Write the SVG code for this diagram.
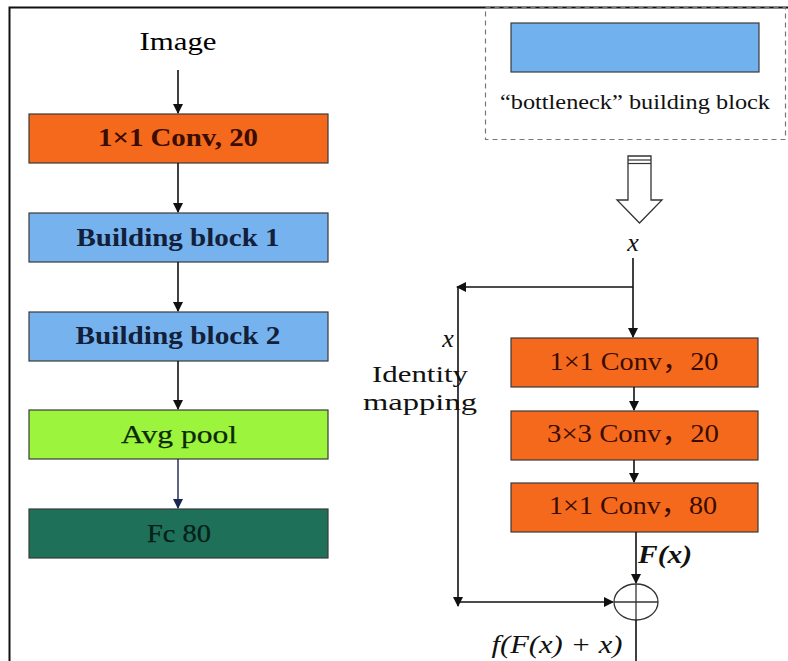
<svg xmlns="http://www.w3.org/2000/svg" width="788" height="661" viewBox="0 0 788 661">
  <style>
    .lbl { font-family: "Liberation Serif", "DejaVu Serif", "Noto Sans CJK SC", serif; font-size: 26px; text-anchor: middle; }
    .bold { font-weight: bold; }
    .it { font-style: italic; }
    .box { stroke: #3a3a3a; stroke-width: 1.2; }
    .orange { fill: #F4691C; }
    .blue { fill: #76B3EE; }
    .line { stroke: #111; stroke-width: 1.6; fill: none; }
  </style>
  <defs>
    <marker id="arr" markerWidth="10" markerHeight="10" refX="9" refY="5" orient="auto" markerUnits="userSpaceOnUse">
      <path d="M0,0 L10,5 L0,10 Z" fill="#111"/>
    </marker>
    <marker id="arrNavy" markerWidth="10" markerHeight="10" refX="9" refY="5" orient="auto" markerUnits="userSpaceOnUse">
      <path d="M0,0 L10,5 L0,10 Z" fill="#1a2550"/>
    </marker>
  </defs>

  <rect width="788" height="661" fill="#ffffff"/>
  <!-- frame -->
  <path d="M9.5,661 L9.5,7.5 L788,7.5" stroke="#111" stroke-width="2" fill="none"/>

  <!-- left column -->
  <g id="image-label">
    <text class="lbl" x="178" y="50" textLength="77" lengthAdjust="spacingAndGlyphs">Image</text>
  </g>
  <g id="conv1">
    <rect class="box orange" x="29" y="114" width="299" height="49"/>
    <text class="lbl bold" x="178" y="146" fill="#3a0c02" textLength="160" lengthAdjust="spacingAndGlyphs">1×1 Conv, 20</text>
  </g>
  <g id="block1">
    <rect class="box blue" x="29" y="213" width="299" height="49"/>
    <text class="lbl bold" x="178" y="246" fill="#12203a" textLength="203" lengthAdjust="spacingAndGlyphs">Building block 1</text>
  </g>
  <g id="block2">
    <rect class="box blue" x="29" y="312" width="299" height="49"/>
    <text class="lbl bold" x="178" y="344" fill="#12203a" textLength="205" lengthAdjust="spacingAndGlyphs">Building block 2</text>
  </g>
  <g id="avgpool">
    <rect class="box" x="29" y="410" width="299" height="49" fill="#9CF53C"/>
    <text class="lbl" x="179" y="443" fill="#0c2a08" stroke="#0c2a08" stroke-width="0.25" textLength="116" lengthAdjust="spacingAndGlyphs">Avg pool</text>
  </g>
  <g id="fc">
    <rect class="box" x="29" y="509" width="299" height="49" fill="#1E7158"/>
    <text class="lbl" x="179" y="542" fill="#06201a" stroke="#06201a" stroke-width="0.25" textLength="64" lengthAdjust="spacingAndGlyphs">Fc 80</text>
  </g>

  <!-- legend -->
  <g id="legend">
    <rect x="485.5" y="7.5" width="300" height="132" fill="none" stroke="#777" stroke-width="1.2" stroke-dasharray="5,4"/>
    <rect class="box" x="511" y="23" width="248" height="49" fill="#71B1EE"/>
    <text class="lbl" x="635" y="109" style="font-size:22px" fill="#111" textLength="270" lengthAdjust="spacingAndGlyphs">“bottleneck” building block</text>
  </g>

  <!-- hollow arrow -->
  <g id="hollow-arrow">
    <path d="M628,156 L651,156 L651,200 L662,200 L639.5,223 L617,200 L628,200 Z" fill="#fff" stroke="#333" stroke-width="1.3"/>
    <line x1="628" y1="160" x2="651" y2="160" stroke="#333" stroke-width="1.2"/>
    <line x1="628" y1="163.5" x2="651" y2="163.5" stroke="#333" stroke-width="1.2"/>
  </g>

  <!-- right column -->
  <g id="x-in">
    <text class="lbl it" x="633" y="251" fill="#111">x</text>
  </g>
  <g id="r-conv1">
    <rect class="box orange" x="511" y="338" width="247" height="49"/>
    <text class="lbl" x="634" y="370" fill="#3a0c02" textLength="169" lengthAdjust="spacingAndGlyphs">1×1 Conv，20</text>
  </g>
  <g id="r-conv2">
    <rect class="box orange" x="511" y="411" width="247" height="49"/>
    <text class="lbl" x="633" y="442" fill="#3a0c02" textLength="172" lengthAdjust="spacingAndGlyphs">3×3 Conv，20</text>
  </g>
  <g id="r-conv3">
    <rect class="box orange" x="511" y="483" width="247" height="49"/>
    <text class="lbl" x="633" y="514" fill="#3a0c02" textLength="168" lengthAdjust="spacingAndGlyphs">1×1 Conv，80</text>
  </g>
  <g id="identity-label">
    <text class="lbl it" x="448" y="347" fill="#111">x</text>
    <text class="lbl" x="420" y="382" style="font-size:23px" fill="#111" textLength="96" lengthAdjust="spacingAndGlyphs">Identity</text>
    <text class="lbl" x="420" y="410" style="font-size:23px" fill="#111" textLength="114" lengthAdjust="spacingAndGlyphs">mapping</text>
  </g>
  <g id="fx-label">
    <text class="lbl bold it" x="665" y="563" fill="#111" textLength="54" lengthAdjust="spacingAndGlyphs">F(x)</text>
  </g>
  <g id="sum">
    <ellipse cx="636" cy="602" rx="22" ry="18" fill="#fff" stroke="#333" stroke-width="1.3"/>
    <line x1="614" y1="602" x2="658" y2="602" stroke="#333" stroke-width="1.3"/>
    <line x1="636" y1="584" x2="636" y2="620" stroke="#333" stroke-width="1.3"/>
  </g>
  <g id="out-label">
    <text class="lbl it" x="557" y="653" fill="#111" textLength="131" lengthAdjust="spacingAndGlyphs">f(F(x) + x)</text>
  </g>

  <!-- connectors -->
  <g id="connectors">
    <line class="line" x1="178" y1="70" x2="178" y2="113" marker-end="url(#arr)"/>
    <line class="line" x1="178" y1="163" x2="178" y2="212" marker-end="url(#arr)"/>
    <line class="line" x1="178" y1="262" x2="178" y2="311" marker-end="url(#arr)"/>
    <line class="line" x1="178" y1="361" x2="178" y2="409" marker-end="url(#arr)"/>
    <line x1="178" y1="459" x2="178" y2="508" stroke="#1a2550" stroke-width="1.4" marker-end="url(#arrNavy)"/>

    <line class="line" x1="633" y1="258" x2="633" y2="337" marker-end="url(#arr)"/>
    <line class="line" x1="633" y1="287" x2="457" y2="287" marker-end="url(#arr)"/>
    <line class="line" x1="458" y1="287" x2="458" y2="606" marker-end="url(#arr)"/>
    <line class="line" x1="458" y1="602" x2="613" y2="602" marker-end="url(#arr)"/>
    <line class="line" x1="634" y1="387" x2="634" y2="410" marker-end="url(#arr)"/>
    <line class="line" x1="634" y1="460" x2="634" y2="482" marker-end="url(#arr)"/>
    <line class="line" x1="636" y1="532" x2="636" y2="583" marker-end="url(#arr)"/>
    <line class="line" x1="636" y1="620" x2="636" y2="661"/>
  </g>
</svg>
